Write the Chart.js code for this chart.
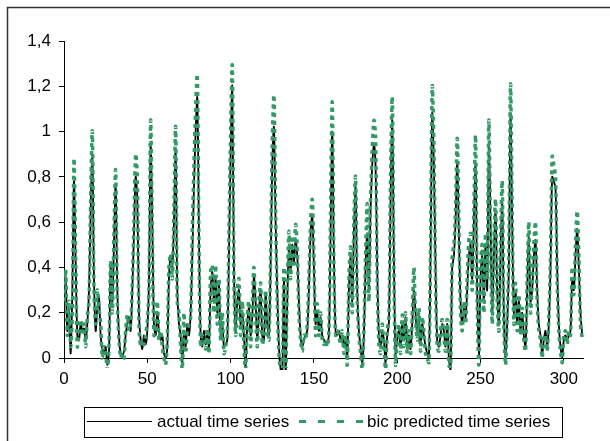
<!DOCTYPE html>
<html>
<head>
<meta charset="utf-8">
<script src="https://cdn.jsdelivr.net/npm/chart.js@4.4.1/dist/chart.umd.min.js"></script>
<style>
  body { margin: 0; background: #fff; }
</style>
</head>
<body>
<canvas id="chart" width="610" height="441"></canvas>
<script>
// one value per time step, 0..311
var actual = [
  0.22,0.35,0.12,0.20,0.02,0.30,0.78,0.42,0.10,0.08,
  0.15,0.12,0.13,0.08,0.15,0.30,0.65,0.90,0.35,0.12,
  0.22,0.27,0.10,0.04,0.02,0.05,-0.03,0.03,0.40,0.25,
  0.50,0.76,0.30,0.10,0.02,0.01,0.03,0.10,0.15,0.18,
  0.12,0.30,0.55,0.80,0.70,0.20,0.08,0.04,0.10,0.06,
  0.12,0.35,0.94,0.60,0.15,0.10,0.20,0.12,0.08,0.10,
  0.02,0.00,0.05,0.35,0.45,0.40,0.60,0.92,0.30,0.15,
  0.10,-0.02,0.12,0.05,0.15,0.10,0.20,0.45,0.75,1.00,
  1.15,0.55,0.10,0.05,0.12,0.06,0.10,0.05,0.30,0.38,
  0.25,0.35,0.20,0.32,0.12,0.15,0.05,0.06,0.08,0.45,
  0.90,1.20,0.40,0.12,0.25,0.30,0.15,0.20,0.10,-0.04,
  0.15,0.22,0.10,0.18,0.36,0.25,0.08,0.20,0.30,0.10,
  0.08,0.28,0.15,0.10,0.40,0.85,1.02,0.60,0.30,0.05,
  -0.05,-0.08,0.35,-0.06,0.25,0.48,0.38,0.50,0.42,0.52,
  0.45,0.25,0.10,0.05,0.08,0.10,0.12,0.30,0.55,0.63,
  0.40,0.15,0.20,0.12,0.18,0.10,0.08,0.07,0.07,0.10,
  0.55,1.00,0.45,0.12,0.10,0.12,0.08,0.10,0.05,0.08,
  0.00,0.30,0.44,0.25,0.55,0.75,0.30,0.12,0.05,-0.02,
  0.10,0.40,0.55,0.30,0.65,0.85,0.95,0.85,0.40,0.10,
  0.05,0.12,0.08,-0.02,0.10,0.15,0.70,1.05,0.45,0.02,
  0.08,0.12,0.05,0.15,0.08,0.18,0.05,0.10,0.04,0.15,
  0.30,0.20,0.10,0.18,0.06,0.15,0.10,0.05,0.02,0.00,
  0.45,1.08,0.85,0.40,0.08,0.05,0.10,0.15,0.12,0.05,
  0.15,0.00,-0.05,0.40,0.45,0.60,0.87,0.55,0.25,0.15,
  0.22,0.18,0.30,0.45,0.50,0.35,0.60,0.85,0.30,0.00,
  0.35,0.45,0.25,0.50,0.30,0.93,0.60,0.20,0.45,0.65,
  0.30,0.15,0.45,0.70,0.20,0.00,0.15,0.40,1.08,0.60,
  0.20,0.30,0.15,0.25,0.12,0.20,0.10,0.05,0.30,0.53,
  0.25,0.30,0.45,0.52,0.30,0.15,0.10,0.02,0.08,0.12,
  0.05,0.15,0.40,0.80,0.78,0.75,0.40,0.15,0.05,0.00,
  0.08,0.10,0.08,0.10,0.12,0.35,0.30,0.45,0.57,0.40,
  0.20,0.10
];
var predicted = [
  0.25,0.39,0.10,0.25,0.05,0.20,0.88,0.45,0.05,0.12,
  0.17,0.10,0.15,0.05,0.18,0.25,0.70,1.00,0.30,0.15,
  0.30,0.22,0.15,0.00,0.05,0.02,-0.05,0.05,0.43,0.20,
  0.55,0.83,0.25,0.08,0.00,0.02,0.00,0.12,0.19,0.12,
  0.15,0.33,0.60,0.90,0.80,0.15,0.05,0.08,0.06,0.10,
  0.16,0.30,1.05,0.55,0.10,0.15,0.25,0.08,0.12,0.05,
  0.00,-0.03,0.08,0.40,0.46,0.35,0.65,1.02,0.25,0.20,
  0.05,-0.05,0.20,0.02,0.12,0.15,0.18,0.55,0.85,1.10,
  1.25,0.50,0.05,0.10,0.08,0.04,0.13,0.02,0.38,0.41,
  0.20,0.41,0.15,0.35,0.08,0.20,0.02,0.05,0.10,0.55,
  1.00,1.29,0.35,0.10,0.30,0.35,0.10,0.25,0.05,-0.05,
  0.18,0.25,0.05,0.22,0.40,0.20,0.05,0.25,0.33,0.06,
  0.10,0.30,0.12,0.08,0.45,0.95,1.16,0.65,0.25,0.02,
  -0.06,-0.10,0.40,-0.08,0.30,0.56,0.35,0.54,0.40,0.59,
  0.48,0.20,0.08,0.03,0.10,0.08,0.15,0.35,0.60,0.70,
  0.45,0.10,0.24,0.10,0.20,0.08,0.06,0.08,0.05,0.12,
  0.65,1.13,0.40,0.10,0.12,0.10,0.06,0.12,0.02,0.10,
  -0.03,0.35,0.49,0.20,0.60,0.80,0.25,0.10,0.02,-0.05,
  0.12,0.45,0.68,0.25,0.70,0.92,1.05,0.98,0.35,0.06,
  0.02,0.15,0.05,-0.05,0.12,0.18,0.80,1.15,0.40,-0.03,
  0.10,0.15,0.02,0.19,0.05,0.20,0.02,0.12,0.02,0.18,
  0.40,0.18,0.08,0.22,0.03,0.18,0.12,0.02,0.00,-0.02,
  0.50,1.20,0.95,0.35,0.05,0.03,0.12,0.17,0.10,0.03,
  0.17,-0.02,-0.06,0.45,0.50,0.65,0.97,0.60,0.20,0.12,
  0.25,0.15,0.35,0.52,0.55,0.30,0.65,0.98,0.25,-0.03,
  0.40,0.50,0.20,0.55,0.35,1.05,0.55,0.15,0.50,0.70,
  0.25,0.12,0.50,0.78,0.15,-0.03,0.18,0.45,1.21,0.65,
  0.15,0.33,0.12,0.28,0.10,0.22,0.08,0.03,0.35,0.60,
  0.20,0.33,0.50,0.60,0.25,0.12,0.08,0.00,0.10,0.10,
  0.03,0.18,0.45,0.89,0.85,0.80,0.35,0.12,0.03,-0.02,
  0.10,0.12,0.06,0.12,0.10,0.40,0.28,0.50,0.65,0.45,
  0.15,0.09
];
var xTicks = [0, 50, 100, 150, 200, 250, 300];
var yTickLabels = ['0', '0,2', '0,4', '0,6', '0,8', '1', '1,2', '1,4'];
var seriesNames = ['actual time series', 'bic predicted time series'];

var green = '#339966';
var fontName = '"Liberation Sans", Arial, sans-serif';

function toPoints(arr) {
  return arr.map(function(v, i) { return { x: i, y: v }; });
}

// outer frame and the boxed legend at the bottom
var framePlugin = {
  id: 'frame',
  afterDraw: function(chart) {
    var ctx = chart.ctx;
    ctx.save();
    ctx.strokeStyle = '#333';
    ctx.lineWidth = 1.5;
    ctx.strokeRect(7.5, 7.5, 640, 460);

    ctx.lineWidth = 1;
    ctx.strokeStyle = '#000';
    ctx.strokeRect(84.5, 407.5, 478, 30);

    var ly = 421.5;
    ctx.beginPath();
    ctx.moveTo(87, ly);
    ctx.lineTo(152, ly);
    ctx.strokeStyle = '#000';
    ctx.lineWidth = 1;
    ctx.stroke();

    ctx.beginPath();
    ctx.setLineDash([7, 12]);
    ctx.moveTo(299, ly);
    ctx.lineTo(363, ly);
    ctx.strokeStyle = green;
    ctx.lineWidth = 3;
    ctx.stroke();
    ctx.setLineDash([]);

    ctx.fillStyle = '#000';
    ctx.font = '17px ' + fontName;
    ctx.textBaseline = 'middle';
    ctx.fillText(seriesNames[0], 157, ly + 1);
    ctx.fillText(seriesNames[1], 367, ly + 1);
    ctx.restore();
  }
};

new Chart(document.getElementById('chart'), {
  type: 'line',
  data: {
    datasets: [
      {
        label: seriesNames[1],
        data: toPoints(predicted),
        borderColor: green,
        borderWidth: 3.5,
        borderDash: [4, 4],
        pointRadius: 0,
        tension: 0.3,
        fill: false,
        clip: { left: 0, top: 5, right: 2, bottom: 10 }
      },
      {
        label: seriesNames[0],
        data: toPoints(actual),
        borderColor: '#000',
        borderWidth: 1.8,
        pointRadius: 0,
        tension: 0.3,
        fill: false,
        clip: { left: 0, top: 5, right: 2, bottom: 12 }
      }
    ]
  },
  options: {
    responsive: false,
    animation: false,
    layout: { padding: { top: 41, right: 27, left: 0, bottom: 0 } },
    plugins: {
      legend: { display: false },
      tooltip: { enabled: false }
    },
    scales: {
      x: {
        type: 'linear',
        min: 0,
        max: 311.5,
        afterBuildTicks: function(s) {
          s.ticks = xTicks.map(function(v) { return { value: v }; });
        },
        afterFit: function(s) { s.height = 83; },
        border: { display: true, color: '#000', width: 1 },
        grid: { drawOnChartArea: false, color: '#000', tickLength: 5 },
        ticks: {
          color: '#000',
          font: { family: fontName, size: 17 },
          padding: 6,
          maxRotation: 0,
          callback: function(v) { return String(v); }
        }
      },
      y: {
        min: 0,
        max: 1.4,
        afterFit: function(s) { s.width = 64; },
        border: { display: true, color: '#000', width: 1 },
        grid: { drawOnChartArea: false, color: '#000', tickLength: 5 },
        ticks: {
          stepSize: 0.2,
          color: '#000',
          font: { family: fontName, size: 17 },
          padding: 8,
          callback: function(v) { return yTickLabels[Math.round(v / 0.2)]; }
        }
      }
    }
  },
  plugins: [framePlugin]
});
</script>
</body>
</html>
